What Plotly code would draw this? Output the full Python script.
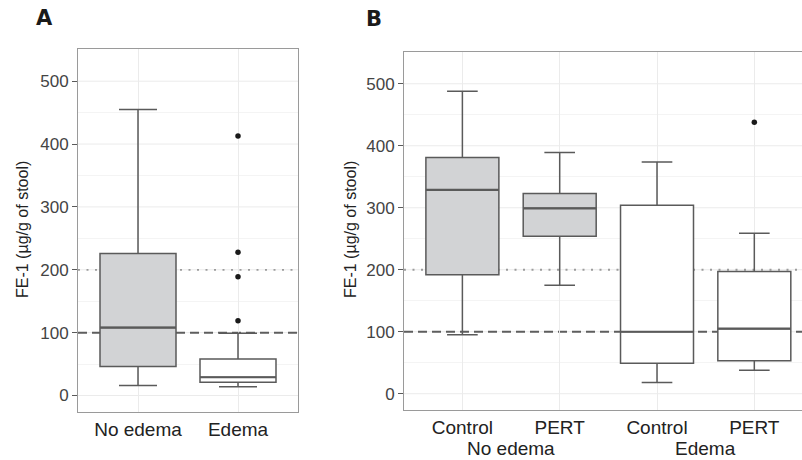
import plotly.graph_objects as go

# ---------------- data ----------------
# Panel A
a_groups = ["No edema", "Edema"]
a_q1 = [46, 21]
a_median = [108, 29]
a_q3 = [226, 58]
a_lower = [16, 14]
a_upper = [455, 99]
a_fill = ["#d2d3d5", "#ffffff"]
a_out_group = [1, 1, 1, 1]
a_out_vals = [413, 228, 189, 119]

# Panel B
b_treat = ["Control", "PERT", "Control", "PERT"]
b_status = ["No edema", "Edema"]
b_q1 = [192, 254, 49, 53]
b_median = [329, 299, 100, 105]
b_q3 = [381, 323, 304, 197]
b_lower = [95, 175, 18, 38]
b_upper = [488, 389, 374, 259]
b_fill = ["#d2d3d5", "#d2d3d5", "#ffffff", "#ffffff"]
b_out_group = [3]
b_out_vals = [438]

ref_dashed = 100
ref_dotted = 200
y_ticks = [0, 100, 200, 300, 400, 500]
y_minor = [50, 150, 250, 350, 450, 550]

# ---------------- style ----------------
W, H = 802, 460
BOXLINE = "#5a5a5a"
FONT = "Liberation Sans, Arial, sans-serif"
TICKCOL = "#444444"
A_XRANGE = [-0.6, 1.6]
B_XRANGE = [-0.6, 3.49]

fig = go.Figure()


def add_boxes(pos_list, q1, med, q3, lo, up, fills, width, capw, xa, ya):
    for i, p in enumerate(pos_list):
        fig.add_trace(go.Box(
            x=[p], q1=[q1[i]], median=[med[i]], q3=[q3[i]],
            lowerfence=[lo[i]], upperfence=[up[i]],
            width=width, whiskerwidth=capw,
            fillcolor=fills[i], line=dict(color=BOXLINE, width=1.5),
            boxpoints=False, showlegend=False, hoverinfo="skip",
            xaxis=xa, yaxis=ya,
        ))
        # thicker median line (ggplot style)
        fig.add_trace(go.Scatter(
            x=[p - width / 2, p + width / 2], y=[med[i], med[i]],
            mode="lines", line=dict(color=BOXLINE, width=2.2),
            showlegend=False, hoverinfo="skip", xaxis=xa, yaxis=ya,
        ))


add_boxes(list(range(len(a_groups))), a_q1, a_median, a_q3, a_lower, a_upper,
          a_fill, 0.76, 0.5, "x", "y")
add_boxes(list(range(len(b_treat))), b_q1, b_median, b_q3, b_lower, b_upper,
          b_fill, 0.75, 0.42, "x2", "y2")

fig.add_trace(go.Scatter(x=a_out_group, y=a_out_vals, mode="markers",
                         marker=dict(color="#1a1a1a", size=5.5),
                         showlegend=False, hoverinfo="skip", xaxis="x", yaxis="y"))
fig.add_trace(go.Scatter(x=b_out_group, y=b_out_vals, mode="markers",
                         marker=dict(color="#1a1a1a", size=5.5),
                         showlegend=False, hoverinfo="skip", xaxis="x2", yaxis="y2"))

# major horizontal gridlines and reference lines as shapes beneath the boxes
for xr, yr in (("x domain", "y"), ("x2 domain", "y2")):
    for t in y_ticks:
        fig.add_shape(type="line", xref=xr, yref=yr, x0=0, x1=1, y0=t, y1=t,
                      layer="below", line=dict(color="#ebebeb", width=1))
    fig.add_shape(type="line", xref=xr, yref=yr, x0=0, x1=1,
                  y0=ref_dotted, y1=ref_dotted, layer="below",
                  line=dict(color="#9c9c9c", width=1.8, dash="2px,6.5px"))
    fig.add_shape(type="line", xref=xr, yref=yr, x0=0, x1=1,
                  y0=ref_dashed, y1=ref_dashed, layer="below",
                  line=dict(color="#5e5e5e", width=2, dash="9px,5px"))

yrange = [-26.25, 551.25]
common_y = dict(
    range=yrange, tickvals=y_ticks,
    showgrid=False,
    minor=dict(tickvals=y_minor, showgrid=True, gridcolor="#f4f4f4", gridwidth=1),
    ticks="outside", ticklen=5, tickcolor="#5a5a5a", tickwidth=1,
    tickfont=dict(family=FONT, size=17, color=TICKCOL),
    showline=True, linecolor="#9a9a9a", linewidth=1,
    zeroline=False, fixedrange=True,
)
common_x = dict(
    showgrid=True, gridcolor="#ebebeb", gridwidth=1,
    ticks="", tickfont=dict(family=FONT, size=19, color="#222222"),
    showline=True, linecolor="#9a9a9a", linewidth=1, mirror=True,
    zeroline=False, fixedrange=True,
)

fig.update_layout(
    width=W, height=H,
    margin=dict(l=0, r=0, t=0, b=0),
    paper_bgcolor="white", plot_bgcolor="white",
    boxmode="overlay",
    xaxis=dict(common_x, domain=[78 / W, 298 / W], range=A_XRANGE,
               tickvals=list(range(len(a_groups))), ticktext=a_groups,
               anchor="y"),
    yaxis=dict(common_y, domain=[1 - 412 / H, 1 - 49 / H], anchor="x", mirror=True),
    xaxis2=dict(common_x, domain=[404 / W, 1.0], range=B_XRANGE,
                tickvals=list(range(len(b_treat))), ticktext=b_treat,
                anchor="y2"),
    yaxis2=dict(common_y, domain=[1 - 410 / H, 1 - 52 / H], anchor="x2", mirror=False),
)

ann = []
ann.append(dict(text="<b>A</b>", x=44 / W, y=1 - 18 / H, xref="paper", yref="paper",
                showarrow=False, font=dict(family="DejaVu Sans, Liberation Sans", size=21, color="#1a1a1a"),
                xanchor="center", yanchor="middle"))
ann.append(dict(text="<b>B</b>", x=374 / W, y=1 - 19 / H, xref="paper", yref="paper",
                showarrow=False, font=dict(family="DejaVu Sans, Liberation Sans", size=21, color="#1a1a1a"),
                xanchor="center", yanchor="middle"))
for xc in (22, 350):
    ann.append(dict(text="FE-1 (µg/g of stool)", x=xc / W, y=1 - 230 / H,
                    xref="paper", yref="paper", showarrow=False, textangle=-90,
                    font=dict(family=FONT, size=16, color="#222222"),
                    xanchor="center", yanchor="middle"))
for gi, g in enumerate(b_status):
    ann.append(dict(text=g, x=gi * 2 + 0.5, y=1 - 448 / H, xref="x2", yref="paper",
                    showarrow=False, font=dict(family=FONT, size=19, color="#222222"),
                    xanchor="center", yanchor="middle"))
fig.update_layout(annotations=ann)

fig.write_html("out.html")
